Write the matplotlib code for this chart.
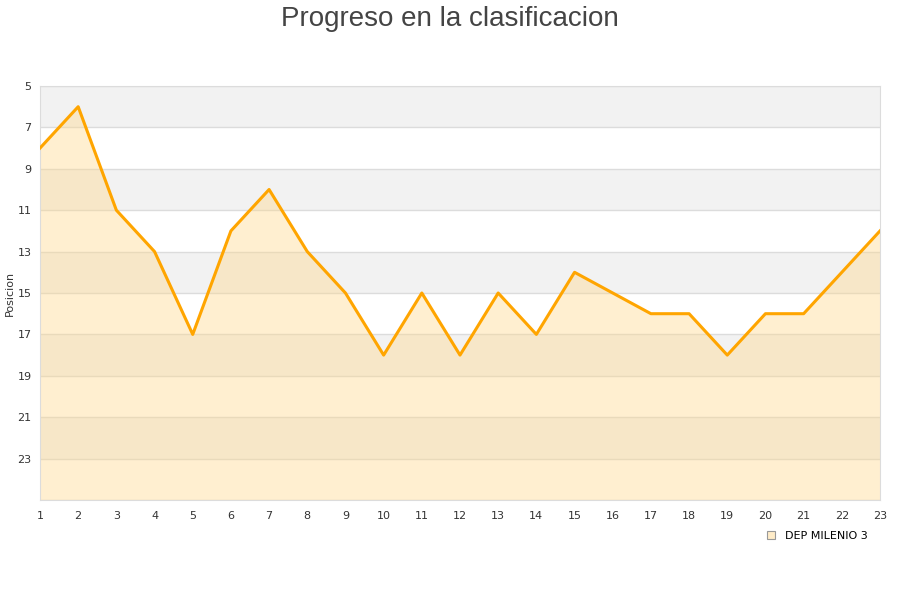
import matplotlib
matplotlib.use("Agg")
import matplotlib.pyplot as plt
from matplotlib.lines import Line2D

# jornadas y posiciones
jornadas = list(range(1, 24))
posicion = [8, 6, 11, 13, 17, 12, 10, 13, 15, 18, 15, 18, 15, 17, 14, 15, 16, 16, 18, 16, 16, 14, 12]
yticks = [5, 7, 9, 11, 13, 15, 17, 19, 21, 23]
equipo = "DEP MILENIO 3"

fig = plt.figure(figsize=(9, 6), dpi=100)
ax = fig.add_axes([40/900, 1-500/600, 840/900, 414/600])

# bandas alternas
for y0 in range(5, 25, 4):
    ax.axhspan(y0, y0 + 2, color="#f2f2f2", zorder=0, lw=0)
for y in range(5, 26, 2):
    ax.axhline(y, color="#dcdcdc", lw=1, zorder=1)

ax.fill_between(jornadas, posicion, 25, color="#ffd78a", alpha=0.4, lw=0, zorder=2)
ax.plot(jornadas, posicion, color="#ffa500", lw=2.2, zorder=3)

ax.set_xlim(1, 23)
ax.set_ylim(25, 5)
ax.set_xticks(jornadas)
ax.set_yticks(yticks)
ax.tick_params(length=0, labelsize=8, colors="#333333")
ax.tick_params(axis="x", pad=8)
ax.tick_params(axis="y", pad=6)
for s in ax.spines.values():
    s.set_color("#dcdcdc")
ax.set_ylabel("Posicion", fontsize=8, color="#333333", labelpad=2)

fig.suptitle("Progreso en la clasificacion", fontsize=20, color="#444444",
             family="Liberation Sans", y=0.99)

h = Line2D([], [], marker="s", ls="", markersize=6, markerfacecolor="#ffecc8",
           markeredgecolor="#999999", markeredgewidth=0.8)
fig.legend([h], [equipo], loc="center left", bbox_to_anchor=(755/900, 1-536/600),
           frameon=False, fontsize=8, handletextpad=0.3, borderaxespad=0)

fig.savefig("out.png", dpi=100)
